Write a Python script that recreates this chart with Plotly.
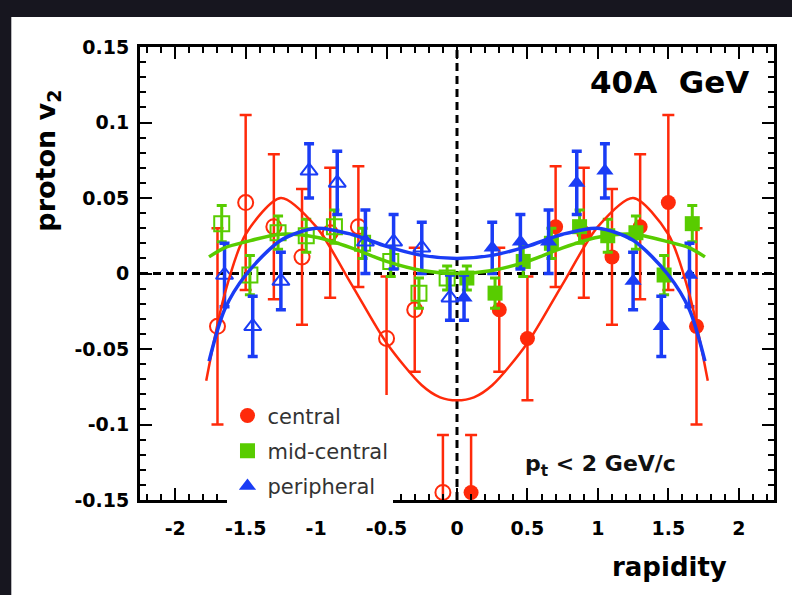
import plotly.graph_objects as go

# Measured points (filled = positive rapidity, open = reflected to negative rapidity)
rap_central = [0.1, 0.3, 0.5, 0.7, 0.9, 1.1, 1.3, 1.5, 1.7]
v2_central = [-0.145, -0.024, -0.043, 0.031, 0.027, 0.011, 0.031, 0.047, -0.035]
err_central = [0.038, 0.041, 0.041, 0.040, 0.043, 0.045, 0.048, 0.058, 0.065]
rap_central_refl = [-0.1, -0.3, -0.5, -0.7, -0.9, -1.1, -1.3, -1.5, -1.7]

rap_mid = [0.07, 0.27, 0.47, 0.67, 0.87, 1.07, 1.27, 1.47, 1.67]
v2_mid = [-0.003, -0.013, 0.008, 0.020, 0.031, 0.025, 0.027, -0.001, 0.033]
err_mid = [0.008, 0.010, 0.010, 0.010, 0.011, 0.011, 0.011, 0.013, 0.012]
rap_mid_refl = [-0.07, -0.27, -0.47, -0.67, -0.87, -1.07, -1.27, -1.47, -1.67]

rap_periph = [0.05, 0.25, 0.45, 0.65, 0.85, 1.05, 1.25, 1.45, 1.65]
v2_periph = [-0.016, 0.017, 0.021, 0.021, 0.060, 0.068, -0.005, -0.035, -0.001]
err_periph = [0.015, 0.017, 0.018, 0.021, 0.021, 0.018, 0.019, 0.020, 0.021]
rap_periph_refl = [-0.05, -0.25, -0.45, -0.65, -0.85, -1.05, -1.25, -1.45, -1.65]

# Fit curves
fit_x_central = [-1.78, -1.65, -1.5, -1.25, -1.0, -0.75, -0.5, -0.25, -0.12, 0.0,
                 0.12, 0.25, 0.5, 0.75, 1.0, 1.25, 1.5, 1.65, 1.78]
fit_central = [-0.071, -0.014, 0.026, 0.050, 0.031, -0.007, -0.046, -0.074, -0.082, -0.084,
               -0.082, -0.074, -0.046, -0.007, 0.031, 0.050, 0.026, -0.014, -0.071]
fit_x_mid = [-1.76, -1.65, -1.5, -1.25, -1.0, -0.75, -0.5, -0.25, 0.0,
             0.25, 0.5, 0.75, 1.0, 1.25, 1.5, 1.65, 1.76]
fit_mid = [0.011, 0.017, 0.021, 0.026, 0.024, 0.017, 0.008, 0.002, 0.000,
           0.002, 0.008, 0.017, 0.024, 0.026, 0.021, 0.017, 0.011]
fit_x_periph = [-1.76, -1.65, -1.5, -1.25, -1.0, -0.75, -0.5, -0.25, 0.0,
                0.25, 0.5, 0.75, 1.0, 1.25, 1.5, 1.65, 1.76]
fit_periph = [-0.058, -0.024, -0.001, 0.022, 0.030, 0.026, 0.018, 0.012, 0.010,
              0.012, 0.018, 0.026, 0.030, 0.022, -0.001, -0.024, -0.058]

x_tick_vals = [-2, -1.5, -1, -0.5, 0, 0.5, 1, 1.5, 2]
x_tick_text = ["-2", "-1.5", "-1", "-0.5", "0", "0.5", "1", "1.5", "2"]
y_tick_vals = [-0.15, -0.1, -0.05, 0, 0.05, 0.1, 0.15]
y_tick_text = ["-0.15", "-0.1", "-0.05", "0", "0.05", "0.1", "0.15"]

RED = "#ff2a0a"
GREEN = "#58cc00"
BLUE = "#1a3cf5"
FONT = "DejaVu Sans"

fig = go.Figure()

series = [
    ("central", rap_central, rap_central_refl, v2_central, err_central, RED, "circle", 15, 2.5, 6),
    ("mid-central", rap_mid, rap_mid_refl, v2_mid, err_mid, GREEN, "square", 15, 3, 5),
    ("peripheral", rap_periph, rap_periph_refl, v2_periph, err_periph, BLUE, "triangle-up", 15, 3.5, 5),
]

for name, xs, xs_refl, ys, errs, col, sym, size, ew, cw in series:
    fig.add_trace(go.Scatter(
        x=xs_refl, y=ys, mode="markers", showlegend=False, cliponaxis=False,
        marker=dict(symbol=sym + "-open", size=size, color=col, line=dict(width=2, color=col)),
        error_y=dict(type="data", array=errs, color=col, thickness=ew, width=cw),
    ))
    fig.add_trace(go.Scatter(
        x=xs, y=ys, mode="markers", name=name, legendgroup=name, cliponaxis=False,
        marker=dict(symbol=sym, size=size, color=col),
        error_y=dict(type="data", array=errs, color=col, thickness=ew, width=cw),
    ))

for fx, fy, col, w in [(fit_x_central, fit_central, RED, 2.5),
                       (fit_x_mid, fit_mid, GREEN, 3.5),
                       (fit_x_periph, fit_periph, BLUE, 3.5)]:
    fig.add_trace(go.Scatter(x=fx, y=fy, mode="lines", showlegend=False,
                             line=dict(color=col, width=w, shape="spline", smoothing=0.8)))

axis_common = dict(
    showline=True, linewidth=3, linecolor="black", mirror="ticks",
    ticks="inside", ticklen=12, tickwidth=2, tickcolor="black",
    showgrid=False, zeroline=False,
    tickfont=dict(family=FONT, size=19, color="black", weight="bold"),
)

fig.update_xaxes(range=[-2.25, 2.25], tickmode="array", tickvals=x_tick_vals, ticktext=x_tick_text,
                 ticklabelstandoff=9,
                 minor=dict(tickmode="linear", tick0=0, dtick=0.1, ticks="inside", ticklen=6,
                            tickwidth=2, tickcolor="black"),
                 **axis_common)
fig.update_yaxes(range=[-0.15, 0.15], tickmode="array", tickvals=y_tick_vals, ticktext=y_tick_text,
                 ticklabelstandoff=4,
                 minor=dict(tickmode="linear", tick0=0, dtick=0.01, ticks="inside", ticklen=6,
                            tickwidth=2, tickcolor="black"),
                 **axis_common)

fig.update_layout(
    width=792, height=595,
    margin=dict(l=140, r=18, t=47, b=95),
    paper_bgcolor="#17161f",
    plot_bgcolor="white",
    legend=dict(x=0.138, y=-0.014, xanchor="left", yanchor="bottom",
                bgcolor="white", traceorder="grouped", tracegroupgap=5,
                font=dict(family=FONT, size=21, color="#333333")),
    shapes=[
        dict(type="rect", xref="paper", yref="paper", x0=-0.203, x1=1.03, y0=-0.22, y1=1.066,
             fillcolor="white", line=dict(width=0), layer="below"),
        dict(type="line", xref="x", yref="paper", x0=0, x1=0, y0=0, y1=1,
             line=dict(color="black", width=3, dash="8px,5px"), layer="below"),
        dict(type="line", xref="paper", yref="y", x0=0, x1=1, y0=0, y1=0,
             line=dict(color="black", width=3, dash="8px,5px"), layer="below"),
    ],
    annotations=[
        dict(text="40A\u00a0 GeV", xref="paper", yref="paper", x=0.964, y=0.923,
             xanchor="right", yanchor="middle", showarrow=False,
             font=dict(family=FONT, size=31, color="black", weight="bold")),
        dict(text="p<sub>t</sub> &lt; 2 GeV/c", xref="paper", yref="paper", x=0.604, y=0.077,
             xanchor="left", yanchor="middle", showarrow=False,
             font=dict(family=FONT, size=22, color="#111111", weight="bold")),
        dict(text="proton v<sub>2</sub>", xref="paper", yref="paper", x=-0.146, y=0.75,
             xanchor="center", yanchor="middle", textangle=-90, showarrow=False,
             font=dict(family=FONT, size=27, color="black", weight="bold")),
        dict(text="rapidity", xref="paper", yref="paper", x=0.835, y=-0.148,
             xanchor="center", yanchor="middle", showarrow=False,
             font=dict(family=FONT, size=26, color="black", weight="bold")),
    ],
)

fig.write_html("out.html", config={"displayModeBar": False},
               post_script="document.body.style.margin='0';")
